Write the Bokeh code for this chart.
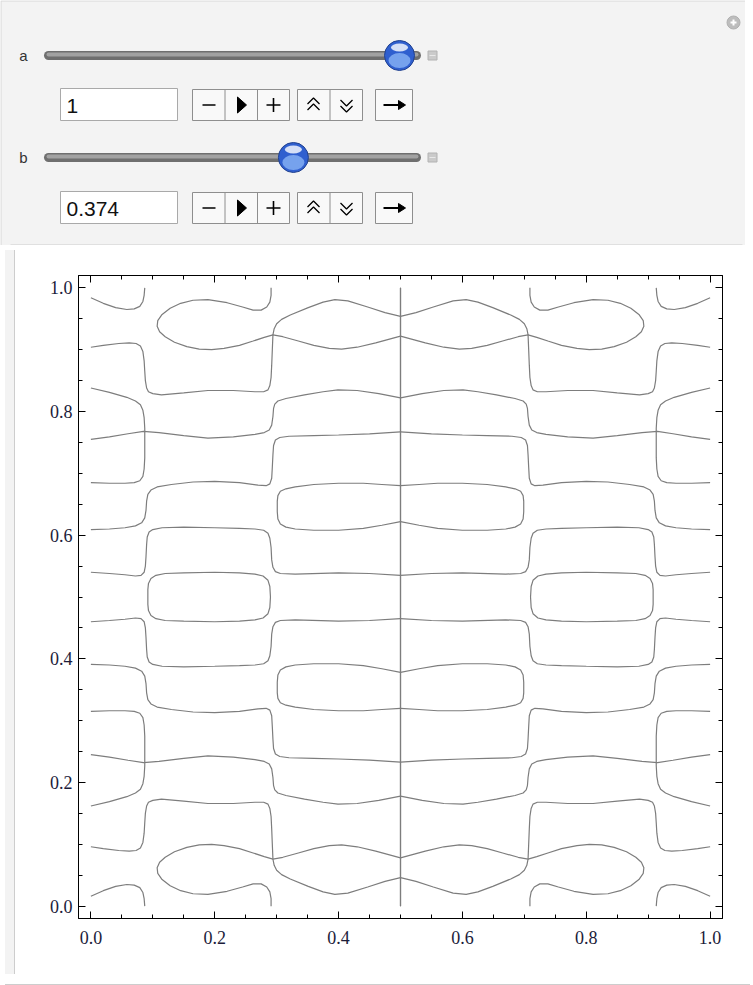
from bokeh.plotting import figure
from bokeh.layouts import column, row
from bokeh.models import (Div, Range1d, LinearAxis, SingleIntervalTicker,
                          PrintfTickFormatter, CustomJSTickFormatter)
from bokeh.core.properties import value
from bokeh.embed import file_html
from bokeh.resources import INLINE

# ---------------- control values ----------------
a_value = 1.0
b_value = 0.374
a_text = "1"
b_text = "0.374"
slider_min, slider_max = -1.0, 1.0

# ---------------- zero-contour curves, lower-left quadrant (x<=0.5, y<=0.5) ----------------
c1_x = [0.0, 0.020, 0.040, 0.058, 0.070, 0.079, 0.084, 0.086, 0.087]
c1_y = [0.016, 0.025, 0.032, 0.035, 0.034, 0.030, 0.022, 0.012, 0.0]

c2_x = [0.0, 0.020, 0.045, 0.062, 0.073, 0.080, 0.084, 0.086, 0.087, 0.088, 0.090, 0.093,
        0.100, 0.114, 0.150, 0.189, 0.230, 0.265, 0.279, 0.286, 0.289, 0.291, 0.292, 0.293,
        0.294, 0.296, 0.300, 0.308, 0.322, 0.351, 0.375, 0.394, 0.415, 0.447, 0.475, 0.5]
c2_y = [0.096, 0.093, 0.090, 0.089, 0.090, 0.094, 0.103, 0.118, 0.135, 0.150, 0.162, 0.168,
        0.171, 0.173, 0.170, 0.166, 0.166, 0.168, 0.168, 0.165, 0.158, 0.145, 0.125, 0.100,
        0.076, 0.066, 0.058, 0.051, 0.044, 0.032, 0.023, 0.019, 0.021, 0.031, 0.040, 0.046]

c3_x = [0.291, 0.291, 0.289, 0.284, 0.275, 0.262, 0.245, 0.220, 0.189, 0.165, 0.145, 0.128,
        0.115, 0.108, 0.107, 0.111, 0.120, 0.135, 0.155, 0.175, 0.195, 0.215, 0.240, 0.262,
        0.280, 0.294, 0.310, 0.335, 0.360, 0.385, 0.405, 0.430, 0.460, 0.5]
c3_y = [0.0, 0.012, 0.023, 0.031, 0.036, 0.036, 0.031, 0.024, 0.019, 0.020, 0.025, 0.033,
        0.043, 0.053, 0.062, 0.071, 0.079, 0.088, 0.095, 0.099, 0.100, 0.098, 0.093, 0.086,
        0.080, 0.076, 0.079, 0.086, 0.093, 0.098, 0.099, 0.096, 0.089, 0.078]

c5_x = [0.0, 0.030, 0.055, 0.070, 0.079, 0.084, 0.086, 0.087, 0.087, 0.087, 0.086, 0.084,
        0.080, 0.072, 0.058, 0.030, 0.0]
c5_y = [0.315, 0.316, 0.316, 0.315, 0.312, 0.305, 0.293, 0.275, 0.250, 0.227, 0.210, 0.198,
        0.189, 0.183, 0.177, 0.169, 0.162]

c6_x = [0.0, 0.030, 0.060, 0.085, 0.110, 0.150, 0.189, 0.230, 0.265, 0.280, 0.288, 0.292,
        0.294, 0.295, 0.297, 0.302, 0.315, 0.345, 0.375, 0.399, 0.430, 0.465, 0.5]
c6_y = [0.245, 0.241, 0.236, 0.232, 0.234, 0.239, 0.243, 0.241, 0.237, 0.234, 0.230, 0.222,
        0.208, 0.195, 0.188, 0.183, 0.179, 0.173, 0.168, 0.165, 0.166, 0.171, 0.178]

c7_x = [0.0, 0.030, 0.055, 0.072, 0.082, 0.087, 0.089, 0.090, 0.092, 0.097, 0.107, 0.130,
        0.165, 0.200, 0.240, 0.270, 0.283, 0.289, 0.292, 0.293, 0.294, 0.295, 0.298, 0.305,
        0.320, 0.360, 0.400, 0.450, 0.5]
c7_y = [0.391, 0.390, 0.388, 0.385, 0.380, 0.372, 0.360, 0.345, 0.334, 0.327, 0.322, 0.318,
        0.314, 0.313, 0.315, 0.319, 0.320, 0.317, 0.308, 0.290, 0.270, 0.255, 0.246, 0.242,
        0.240, 0.239, 0.238, 0.236, 0.233]

c8_x = [0.5, 0.470, 0.440, 0.400, 0.360, 0.330, 0.315, 0.306, 0.302, 0.301, 0.301, 0.302,
        0.306, 0.315, 0.330, 0.360, 0.400, 0.440, 0.470, 0.5]
c8_y = [0.378, 0.384, 0.389, 0.392, 0.392, 0.390, 0.387, 0.382, 0.374, 0.362, 0.345, 0.336,
        0.329, 0.325, 0.322, 0.318, 0.316, 0.316, 0.318, 0.320]

c9_x = [0.0, 0.030, 0.055, 0.072, 0.081, 0.086, 0.088, 0.089, 0.090, 0.091, 0.094, 0.100,
        0.115, 0.150, 0.200, 0.240, 0.265, 0.279, 0.286, 0.289, 0.291, 0.292, 0.294, 0.298,
        0.306, 0.330, 0.400, 0.450, 0.5]
c9_y = [0.460, 0.462, 0.464, 0.466, 0.465, 0.460, 0.450, 0.435, 0.415, 0.403, 0.395, 0.391,
        0.388, 0.387, 0.388, 0.389, 0.390, 0.392, 0.397, 0.405, 0.420, 0.440, 0.452, 0.459,
        0.462, 0.463, 0.461, 0.462, 0.465]

c10_x = [0.092, 0.092, 0.093, 0.097, 0.105, 0.120, 0.150, 0.200, 0.240, 0.265, 0.278, 0.286,
         0.289, 0.290]
c10_y = [0.5, 0.488, 0.478, 0.470, 0.465, 0.462, 0.461, 0.460, 0.461, 0.463, 0.466, 0.473,
         0.483, 0.5]

c11_x = [0.5, 0.5]
c11_y = [0.0, 0.5]

tick_interval = 0.2
minor_per_major = 4

quadrant = [(c1_x, c1_y), (c2_x, c2_y), (c3_x, c3_y), (c5_x, c5_y), (c6_x, c6_y),
            (c7_x, c7_y), (c8_x, c8_y), (c9_x, c9_y), (c10_x, c10_y), (c11_x, c11_y)]

# the pattern is mirror-symmetric about x = 0.5 and about y = 0.5
xs, ys = [], []
for cx, cy in quadrant:
    for mx in (False, True):
        for my in (False, True):
            xs.append([1 - v for v in cx] if mx else list(cx))
            ys.append([1 - v for v in cy] if my else list(cy))

PANEL = "#f3f3f3"
EDGE = "#cdcdcd"

# ---------------- control panel ----------------
W, HC = 745, 245
ctrl = figure(width=W, height=HC, x_range=Range1d(0, W), y_range=Range1d(HC, 0),
              output_backend="svg", toolbar_location=None, min_border=0)
ctrl.axis.visible = False
ctrl.xgrid.visible = False
ctrl.ygrid.visible = False
ctrl.outline_line_color = None
ctrl.background_fill_color = PANEL
ctrl.border_fill_color = PANEL

ctrl.line([0.5, 0.5], [HC, 0.5], line_color="#d8d8d8", line_width=1)
ctrl.line([0.5, W], [0.5, 0.5], line_color="#d8d8d8", line_width=1)
ctrl.line([10, 742], [HC - 0.5, HC - 0.5], line_color=EDGE, line_width=1)

# plus icon
ctrl.scatter([733], [22], size=13, marker="circle", fill_color="#bdbdbd", line_color="#b0b0b0")
ctrl.segment([730, 733], [22, 19], [736, 733], [22, 25], line_color="white", line_width=2)

knob_lo, knob_hi = 60.0, 399.0

def knob_pos(v):
    return knob_lo + (v - slider_min) / (slider_max - slider_min) * (knob_hi - knob_lo)

def slider(label, yc, v):
    ctrl.text([23], [yc], text=[label], text_font=value("Liberation Sans"),
              text_font_size="15px", text_color="#333333", text_align="center",
              text_baseline="middle")
    ctrl.line([48, 416], [yc, yc], line_width=9, line_color="#6f6f6f", line_cap="round")
    ctrl.line([48, 416], [yc - 1, yc - 1], line_width=4, line_color="#a2a2a2", line_cap="round")
    ctrl.rect([432], [yc], width=9, height=9, fill_color="#cacaca", line_color="#b2b2b2")
    ctrl.segment([429], [yc], [435], [yc], line_color="#e8e8e8", line_width=1)
    k = knob_pos(v)
    ctrl.circle([k], [yc], radius=15, fill_color="#2f5fcf", line_color="#22428f", line_width=1)
    ctrl.ellipse([k], [yc + 5], width=22, height=15, fill_color="#8fb8f7", fill_alpha=0.75,
                 line_color=None)
    ctrl.ellipse([k], [yc - 8], width=17, height=8, fill_color="white", fill_alpha=0.8,
                 line_color=None)

def inputs(yt, txt):
    ctrl.quad(left=[60], right=[177], top=[yt], bottom=[yt + 32], fill_color="white",
              line_color="#a9a9a9")
    ctrl.text([66], [yt + 17], text=[txt], text_font=value("Liberation Sans"),
              text_font_size="21px", text_color="#111111", text_align="left",
              text_baseline="middle")
    top, bot = yt + 1, yt + 32
    cy = (top + bot) / 2
    ctrl.quad(left=[192, 297, 375], right=[289, 362, 412], top=[top] * 3, bottom=[bot] * 3,
              fill_color="#f9f9f9", line_color="#8e8e8e")
    ctrl.segment([224.5, 257, 329.5], [top] * 3, [224.5, 257, 329.5], [bot] * 3,
                 line_color="#8e8e8e")
    ctrl.segment([202], [cy], [215], [cy], line_color="black", line_width=1.6)
    ctrl.patch([237, 237, 246], [cy - 8, cy + 8, cy], fill_color="black", line_color="black")
    ctrl.segment([266, 273], [cy, cy - 7], [280, 273], [cy, cy + 7], line_color="black",
                 line_width=1.6)
    ctrl.multi_line([[307, 313, 319], [307, 313, 319]], [[cy - 1, cy - 7, cy - 1], [cy + 5, cy - 1, cy + 5]],
                    line_color="black", line_width=1.3)
    ctrl.multi_line([[340, 346, 352], [340, 346, 352]], [[cy - 5, cy + 1, cy - 5], [cy + 1, cy + 7, cy + 1]],
                    line_color="black", line_width=1.3)
    ctrl.segment([383], [cy], [401], [cy], line_color="black", line_width=1.8)
    ctrl.patch([405, 398, 398], [cy, cy - 4.5, cy + 4.5], fill_color="black", line_color="black")

slider("a", 55, a_value)
inputs(88, a_text)
slider("b", 157, b_value)
inputs(191, b_text)

# ---------------- contour plot ----------------
PW, PH = 732, 724
p = figure(width=PW, height=PH, x_range=Range1d(-0.02, 1.02), y_range=Range1d(-0.02, 1.02),
           output_backend="svg", toolbar_location=None,
           min_border_left=58, min_border_right=30, min_border_top=30, min_border_bottom=51)
bottom_ax = p.below[0]
left_ax = p.left[0]
p.background_fill_color = "white"
p.border_fill_color = "white"
p.outline_line_color = "black"
p.outline_line_width = 1
p.xgrid.visible = False
p.ygrid.visible = False

p.multi_line(xs, ys, line_color="#7d7d7d", line_width=1.2)

top_ax = LinearAxis()
right_ax = LinearAxis()
p.add_layout(top_ax, "above")
p.add_layout(right_ax, "right")

for ax in [bottom_ax, left_ax, top_ax, right_ax]:
    ax.ticker = SingleIntervalTicker(interval=tick_interval, num_minor_ticks=minor_per_major)
    ax.major_tick_in = 7
    ax.major_tick_out = 0
    ax.minor_tick_in = 4
    ax.minor_tick_out = 0
    ax.axis_line_color = "black"
    ax.major_tick_line_color = "black"
    ax.minor_tick_line_color = "black"
    ax.major_label_text_font = "Liberation Serif"
    ax.major_label_text_font_size = "18px"
    ax.major_label_text_color = "#1c1c3a"

for ax in [bottom_ax, left_ax]:
    ax.formatter = PrintfTickFormatter(format="%.1f")
bottom_ax.major_label_standoff = 12
left_ax.major_label_standoff = 6
for ax in [top_ax, right_ax]:
    ax.formatter = CustomJSTickFormatter(code="return ''")
    ax.major_label_standoff = 0

left_strip = Div(text="", width=10, height=PH,
                 styles={"background-color": PANEL, "border-right": "1px solid " + EDGE,
                         "box-sizing": "border-box"})
right_strip = Div(text="", width=3, height=PH,
                  styles={"background-color": PANEL, "border-left": "1px solid " + EDGE,
                          "box-sizing": "border-box"})
bottom_strip = Div(text="", width=W, height=8,
                   styles={"background-color": PANEL, "border-top": "1px solid " + EDGE,
                           "box-sizing": "border-box"})

layout = column(ctrl, row(left_strip, p, right_strip), bottom_strip)
open("out.html", "w").write(file_html(layout, INLINE))
